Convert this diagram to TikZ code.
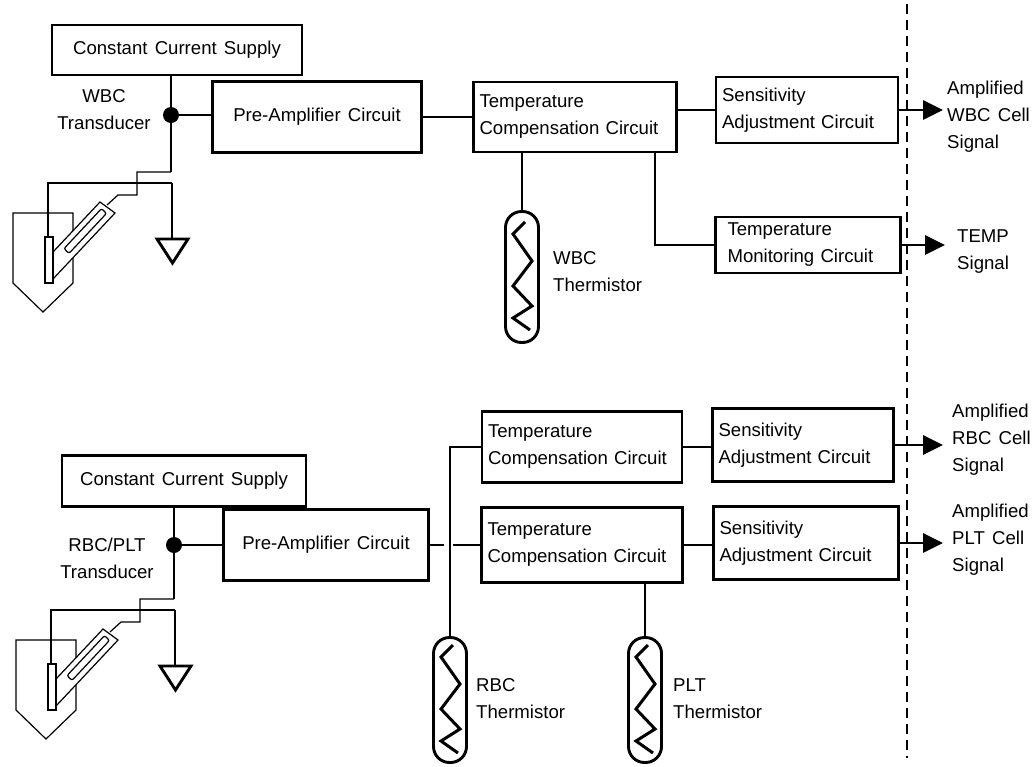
\documentclass[tikz,border=0pt]{standalone}
\usepackage{fontspec}
\setmainfont[WordSpace=1.4]{Liberation Sans}
\usepackage{tikz}
\usetikzlibrary{arrows.meta}

\tikzset{
    every node/.style={font=\fontsize{18.6}{27}\selectfont},
    box/.style={draw, line width=2.9pt, inner sep=0pt, align=center},
    lbox/.style={draw, line width=2.9pt, inner xsep=6pt, inner ysep=0pt, align=left},
    therm/.style={draw, line width=2.9pt, rounded corners=16pt, minimum width=33pt, inner sep=0pt},
    wire/.style={line width=2.9pt},
    fine/.style={line width=1.2pt},
    zig/.style={line width=3pt},
    sig/.style={line width=2.9pt, -{Triangle[length=20pt,width=19pt]}},
    lbl/.style={align=left, inner sep=0pt, anchor=west},
    divider/.style={line width=2.8pt, dash pattern=on 10pt off 6pt}
}

\begin{document}
\begin{tikzpicture}[x=1pt, y=-1pt]
        \useasboundingbox (0,0) rectangle (1035,766);

        \coordinate (dotA) at (171,115);
        \coordinate (tapA) at (171,172);
        \coordinate (dotB) at (174,545);
        \coordinate (tapB) at (174,599);

        % WBC channel
        \node[box, minimum width=250pt, minimum height=50pt] (ccsA) at (177,50) {Constant Current Supply};
        \node[box, minimum width=209pt, minimum height=71pt] (preA) at (317,117) {Pre-Amplifier Circuit};
        \node[lbox, text width=191pt, minimum height=70pt] (tccA) at (575,117) {Temperature\\Compensation Circuit};
        \node[lbox, text width=170pt, minimum height=66pt] (senA) at (807,110) {Sensitivity\\Adjustment Circuit};
        \node[lbox, text width=161pt, inner xsep=12pt, minimum height=56pt] (monA) at (808,245) {Temperature\\Monitoring Circuit};
        \node[therm, minimum height=131pt] (thA) at (522,277) {};

        \node[align=center, inner sep=0pt] (trA) at (104,110) {WBC\\Transducer};
        \node[lbl] (thlA) at (553,272) {WBC\\Thermistor};
        \node[lbl] (sigA) at (947,117) {Amplified\\WBC Cell\\Signal};
        \node[lbl] (sigT) at (957,252) {TEMP\\Signal};

        % RBC/PLT channel
        \node[box, minimum width=244pt, minimum height=51pt] (ccsB) at (184,481) {Constant Current Supply};
        \node[box, minimum width=205pt, minimum height=71pt] (preB) at (326,545) {Pre-Amplifier Circuit};
        \node[lbox, text width=188pt, minimum height=71pt] (tccB1) at (582,447) {Temperature\\Compensation Circuit};
        \node[lbox, text width=189pt, minimum height=75pt] (tccB2) at (582,545) {Temperature\\Compensation Circuit};
        \node[lbox, text width=169pt, minimum height=73pt] (senB1) at (803,445) {Sensitivity\\Adjustment Circuit};
        \node[lbox, text width=173pt, minimum height=73pt] (senB2) at (806,543) {Sensitivity\\Adjustment Circuit};
        \node[therm, minimum height=125pt] (thB1) at (450,700) {};
        \node[therm, minimum height=125pt] (thB2) at (645,700) {};

        \node[align=center, inner sep=0pt] (trB) at (107,558) {RBC/PLT\\Transducer};
        \node[lbl] (thlB1) at (476,699) {RBC\\Thermistor};
        \node[lbl] (thlB2) at (673,699) {PLT\\Thermistor};
        \node[lbl] (sigB1) at (952,440) {Amplified\\RBC Cell\\Signal};
        \node[lbl] (sigB2) at (952,540) {Amplified\\PLT Cell\\Signal};

        % zigzag inside each thermistor
        \foreach \th in {thA,thB1,thB2}
            \draw[zig, shift={(\th.center)}] (3,-55) -- (-9,-43) -- (10,-16) -- (-9,9) -- (10,29) -- (-9,41) -- (8,53);

        % transducer heads with their ground
        \foreach \t/\dx/\dy in {A/0/0,B/3/427}{
            \begin{scope}[shift={(\dx,\dy)}]
                \draw[fine, fill=white] (13,213) -- (13,283) -- (43,312) -- (73,283) -- (73,213) -- cycle;
                \draw[fine, fill=white] (100,202) -- (115,213) -- (53,279) -- (53,252) -- cycle;
                \draw[fine, rounded corners=2pt] (101.5,208.6) -- (106.5,213.4) -- (69,253.4) -- (64,248.6) -- cycle;
                \draw[fine, fill=white] (45,237) rectangle (53,283);
                \draw[fine] (tap\t) -- (137,172) -- (137,195) -- (118,195) -- (107,205);
                \draw[fine] (48,237) -- (48,183) -- (172,183);
                \draw[wire] (172,183) -- (172,239);
                \draw[wire] (157,239) -- (188,239) -- (172.5,263) -- cycle;
            \end{scope}
        }

        % WBC wiring
        \draw[wire] (ccsA.south -| dotA) -- (tapA);
        \fill (dotA) circle (8pt);
        \draw[wire] (dotA) -- (dotA -| preA.west);
        \draw[wire] (preA.east) -- (preA.east -| tccA.west);
        \draw[wire] (tccA.east |- senA.west) -- (senA.west);
        \draw[wire] (thA.north |- tccA.south) -- (thA.north);
        \draw[wire] ([xshift=-23pt]tccA.south east) |- (monA.west);
        \draw[sig, shorten >=4pt] (senA.east) -- (senA.east -| sigA.west);
        \draw[sig, shorten >=12pt] (monA.east) -- (monA.east -| sigT.west);

        % RBC/PLT wiring
        \draw[wire] (ccsB.south -| dotB) -- (tapB);
        \fill (dotB) circle (8pt);
        \draw[wire] (dotB) -- (dotB -| preB.west);
        \draw[wire] (preB.east) -- ++(14,0);
        \draw[wire] (tccB2.west) -- ++(-27,0);
        \draw[wire] (tccB1.west) -| (thB1.north);
        \draw[wire] (tccB1.east) -- (tccB1.east -| senB1.west);
        \draw[wire] (tccB2.east) -- (tccB2.east -| senB2.west);
        \draw[wire] (thB2.north |- tccB2.south) -- (thB2.north);
        \draw[sig, shorten >=9pt] (senB1.east) -- (senB1.east -| sigB1.west);
        \draw[sig, shorten >=9pt] (senB2.east) -- (senB2.east -| sigB2.west);

        \draw[divider] (907,4) -- (907,758);

\end{tikzpicture}
\end{document}
